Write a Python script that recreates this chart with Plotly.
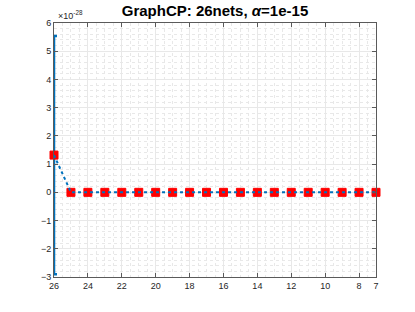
import plotly.graph_objects as go

scale_label = "×10<sup>-28</sup>"
nets = list(range(26, 6, -1))
values = [1.32] + [0.0] * 19          # in units of 1e-28
err_x = [26]
err_y = [1.32]
err_size = [4.22]
xtick_vals = [26, 24, 22, 20, 18, 16, 14, 12, 10, 8, 7]
ytick_vals = [-3, -2, -1, 0, 1, 2, 3, 4, 5, 6]

blue = "#0072BD"
font_fam = "Liberation Sans, Arial"
fig = go.Figure()
fig.add_trace(go.Scatter(
    x=err_x, y=err_y, mode="markers", marker=dict(size=1, opacity=0), cliponaxis=False,
    error_y=dict(type="data", array=err_size, color=blue, thickness=2.5, width=3),
    showlegend=False))
fig.add_trace(go.Scatter(
    x=nets, y=values, mode="markers", cliponaxis=False,
    marker=dict(symbol="square", size=8, color="#FF0000", line=dict(color="#FF0000", width=1)),
    showlegend=False))
fig.add_trace(go.Scatter(
    x=nets, y=values, mode="lines", cliponaxis=False,
    line=dict(color=blue, width=2, dash="dot"), showlegend=False))

axis_common = dict(
    showline=True, linecolor="#5A5A5A", linewidth=1, mirror="ticks",
    ticks="inside", ticklen=4, tickcolor="#5A5A5A", automargin=False,
    tickfont=dict(family=font_fam, size=9, color="#262626"),
    showgrid=True, gridcolor="#E8E8E8", gridwidth=1, zeroline=False,
)
minor_common = dict(showgrid=True, gridcolor="#E8E8E8", gridwidth=0.6, griddash="dot", ticks="")
fig.update_xaxes(range=[26, 7], tickmode="array", tickvals=xtick_vals,
                 minor=dict(dtick=0.5, **minor_common), **axis_common)
fig.update_yaxes(range=[-3, 6], tickmode="array", tickvals=ytick_vals,
                 minor=dict(dtick=0.2, **minor_common), **axis_common)

fig.update_layout(
    width=415, height=312,
    margin=dict(l=54, r=39, t=23, b=35),
    plot_bgcolor="white", paper_bgcolor="white",
    hovermode=False,
    title=dict(text="<b>GraphCP: 26nets, <i>α</i>=1e-15</b>", x=215/415, xanchor="center",
               y=1 - 11/312, yanchor="middle",
               font=dict(family=font_fam, size=15, color="black")),
    annotations=[dict(text=scale_label, xref="paper", yref="paper", x=0, y=1,
                      xanchor="left", yanchor="bottom", showarrow=False,
                      font=dict(family=font_fam, size=9, color="#262626"),
                      xshift=2)],
)
fig.write_html("out.html", config={"displayModeBar": False},
               post_script="document.body.style.margin='0';")
